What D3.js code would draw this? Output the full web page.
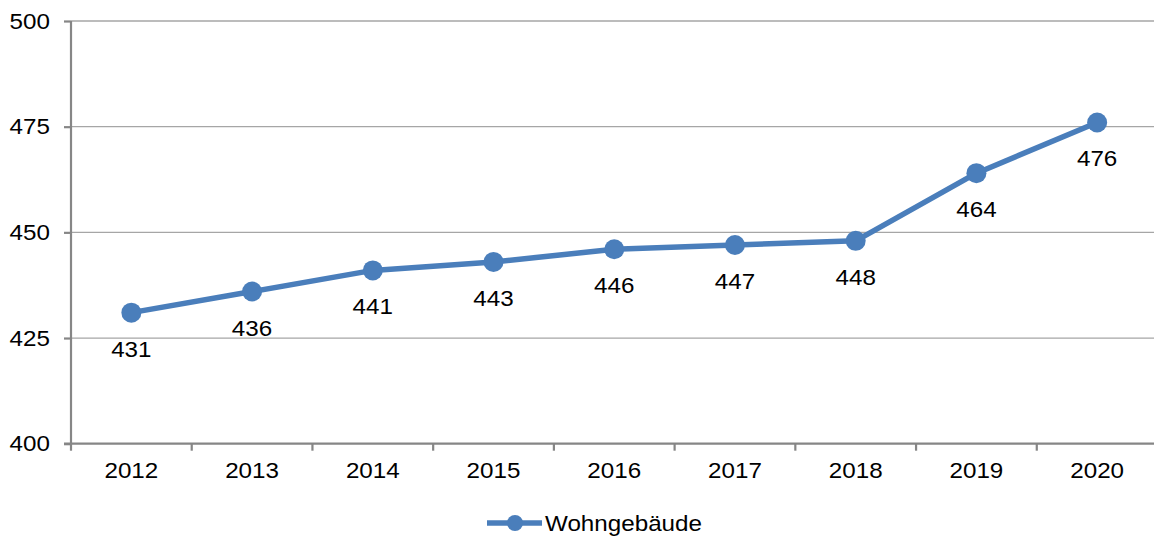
<!DOCTYPE html>
<html>
<head>
  <meta charset="utf-8">
  <title>Wohngebäude</title>
  <script src="https://d3js.org/d3.v7.min.js"></script>
  <style>
    body { margin: 0; background: #fff; }
    text { font-family: "Liberation Sans", Arial, sans-serif; fill: #000; }
  </style>
</head>
<body>
<div id="chart"></div>
<script type="text/javascript">
  let w = 1154;
  let h = 536;

  let years = ['2012', '2013', '2014', '2015', '2016', '2017', '2018', '2019', '2020'];
  let values = [431, 436, 441, 443, 446, 447, 448, 464, 476];
  let yTicks = [400, 425, 450, 475, 500];
  let seriesName = 'Wohngebäude';

  let mLeft = 71, mRight = 1157.5, mTop = 21, mBottom = 443.7;
  let blue = '#4a7ebb';
  let fontSize = '22px';

  // die schrift im original ist etwas breiter gezogen
  function widen(sel, k) {
    sel.each(function () {
      let len = this.getComputedTextLength();
      d3.select(this)
        .attr('textLength', len * k)
        .attr('lengthAdjust', 'spacingAndGlyphs');
    });
  }

  let xScale = d3.scaleBand()
                .domain(years)
                .range([mLeft, mRight]);

  let yScale = d3.scaleLinear()
                .domain([400, 500])
                .range([mBottom, mTop]);

  let svg = d3.select('#chart')
              .append('svg')
              .attr('width', w)
              .attr('height', h);

  // gitternetz
  svg.selectAll('line.grid')
     .data(yTicks.slice(1))
     .enter()
     .append('line')
     .attr('class', 'grid')
     .attr('x1', mLeft)
     .attr('x2', mRight)
     .attr('y1', d => yScale(d))
     .attr('y2', d => yScale(d))
     .attr('stroke', '#a6a6a6')
     .attr('stroke-width', 1.3);

  // y achse
  let yAxis = svg.append('g')
     .attr('transform', `translate(${mLeft},0)`)
     .call(d3.axisLeft(yScale).tickValues(yTicks).tickSize(7).tickPadding(14));

  // x achse
  let xAxis = svg.append('g')
     .attr('transform', `translate(0,${mBottom})`)
     .call(d3.axisBottom(xScale).tickSize(0).tickPadding(19));

  // tick marks between categories
  xAxis.selectAll('line.sep')
     .data(d3.range(years.length + 1))
     .enter()
     .append('line')
     .attr('class', 'sep')
     .attr('x1', i => mLeft + i * xScale.step())
     .attr('x2', i => mLeft + i * xScale.step())
     .attr('y1', 0)
     .attr('y2', 7);

  [yAxis, xAxis].forEach(g => {
    g.selectAll('path.domain').attr('stroke', '#868686').attr('stroke-width', 2.2);
    g.selectAll('line').attr('stroke', '#868686').attr('stroke-width', 2.2);
    g.selectAll('text').attr('font-size', fontSize).attr('fill', '#000')
     .attr('font-family', '"Liberation Sans", Arial, sans-serif')
     .call(widen, 1.1);
  });
  yAxis.selectAll('path.domain').attr('d', `M0,${mTop}V${mBottom}`);
  xAxis.selectAll('path.domain').attr('d', `M${mLeft - 7},0H${mRight}`);

  let cx = (d, i) => xScale(years[i]) + xScale.bandwidth() / 2;

  let line = d3.line()
     .x((d, i) => cx(d, i))
     .y(d => yScale(d));

  svg.append('path')
     .datum(values)
     .attr('d', line)
     .attr('fill', 'none')
     .attr('stroke', blue)
     .attr('stroke-width', 5.5)
     .attr('stroke-linejoin', 'round');

  svg.selectAll('circle.pt')
     .data(values)
     .enter()
     .append('circle')
     .attr('class', 'pt')
     .attr('cx', cx)
     .attr('cy', d => yScale(d))
     .attr('r', 10)
     .attr('fill', blue);

  svg.selectAll('text.lbl')
     .data(values)
     .enter()
     .append('text')
     .attr('class', 'lbl')
     .attr('x', cx)
     .attr('y', d => yScale(d) + 44)
     .attr('text-anchor', 'middle')
     .attr('font-size', fontSize)
     .text(d => d)
     .call(widen, 1.1);

  // legende
  let lg = svg.append('g').attr('transform', 'translate(487,523)');
  lg.append('line')
    .attr('x1', 0).attr('x2', 55)
    .attr('stroke', blue).attr('stroke-width', 5.5);
  lg.append('circle')
    .attr('cx', 28).attr('r', 8).attr('fill', blue);
  lg.append('text')
    .attr('x', 58).attr('y', 8)
    .attr('font-size', fontSize)
    .text(seriesName)
    .call(widen, 1.1);
</script>
</body>
</html>
